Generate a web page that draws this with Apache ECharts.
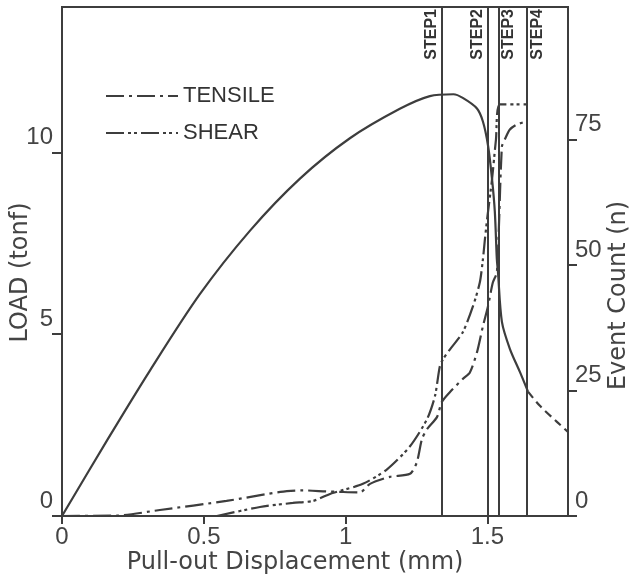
<!DOCTYPE html>
<html>
<head>
<meta charset="utf-8">
<script src="https://cdn.jsdelivr.net/npm/echarts@6/dist/echarts.min.js"></script>
<style>
html,body{margin:0;padding:0;background:#fff;}
#chart{width:634px;height:582px;}
</style>
</head>
<body>
<div id="chart"></div>
<script>
// Load curve (mm, tonf) - solid part
var loadSolid = [[0,0],[0.162,2.12],[0.31,4.0],[0.486,6.1],[0.663,7.85],[0.839,9.28],[1.015,10.39],[1.191,11.2],[1.297,11.55],[1.38,11.6],[1.413,11.5],[1.463,11.21],[1.484,10.85],[1.502,10.19],[1.516,9.28],[1.526,8.37],[1.533,7.08],[1.537,6.72],[1.551,5.34],[1.579,4.6],[1.614,3.97],[1.643,3.42]];
// Load curve - dashed continuation
var loadDashed = [[1.643,3.42],[1.685,3.03],[1.745,2.59],[1.784,2.31]];
// Event count (n) - TENSILE
var tensile = [[0,0],[0.2,0.1],[0.345,1.2],[0.58,3.0],[0.77,4.8],[0.85,5.1],[0.93,4.9],[0.98,4.8],[1.05,4.7],[1.086,6.4],[1.156,7.8],[1.227,8.4],[1.251,10.7],[1.269,15.3],[1.287,17.3],[1.322,19.7],[1.339,22.7],[1.368,24.7],[1.413,27.3],[1.438,28.6],[1.463,32.6],[1.484,37.8],[1.502,41.8],[1.519,46.5],[1.533,48.5],[1.540,57],[1.551,73.6],[1.561,75],[1.579,77],[1.604,78],[1.639,78.6]];
// Event count (n) - SHEAR
var shear = [[0.546,0],[0.698,1.8],[0.814,2.6],[0.885,3.0],[0.945,4.4],[0.98,5.0],[1.061,6.4],[1.146,9.3],[1.227,13.9],[1.287,19.3],[1.315,23.9],[1.332,29.8],[1.343,31.2],[1.368,33.2],[1.413,36.6],[1.449,41.8],[1.473,46.5],[1.484,51.1],[1.491,55.1],[1.50,59.7],[1.516,67],[1.530,75],[1.544,82],[1.639,82]];
// Step markers
var stepPositions = [1.336, 1.498, 1.544, 1.639];
var stepLabels = ['STEP1', 'STEP2', 'STEP3', 'STEP4'];
var seriesNames = ['TENSILE', 'SHEAR'];
// Tick values
var xTicks = [0, 0.5, 1, 1.5];
var loadTicks = [0, 5, 10];
var countTicks = [0, 25, 50, 75];

var ink = '#3d3d3d';
var chart = echarts.init(document.getElementById('chart'));
var option = {
  animation: false,
  backgroundColor: '#fff',
  grid: {left: 62, right: 66, top: 7, bottom: 66, containLabel: false, outerBoundsMode: 'none',
    show: true, borderColor: ink, borderWidth: 2, backgroundColor: 'transparent'},
  legend: {
    data: seriesNames,
    orient: 'vertical',
    left: 100, top: 80,
    itemWidth: 72, itemHeight: 4, itemGap: 15,
    itemStyle: {opacity: 0},
    textStyle: {fontSize: 22, color: '#333', fontFamily: 'Liberation Sans'}
  },
  xAxis: {
    type: 'value', min: 0, max: 1.784,
    name: 'Pull-out Displacement (mm)', nameLocation: 'middle', nameGap: 35, nameMoveOverlap: false,
    nameTextStyle: {fontSize: 24, color: '#444', fontFamily: 'DejaVu Sans', padding: [0, 40, 0, 0]},
    axisLine: {lineStyle: {color: ink, width: 2}},
    axisTick: {length: 8, customValues: xTicks, lineStyle: {color: ink, width: 2}},
    axisLabel: {fontSize: 24, color: '#444', fontFamily: 'Liberation Sans', margin: 9, customValues: xTicks},
    splitLine: {show: false}
  },
  yAxis: [{
    type: 'value', min: 0, max: 14, position: 'left',
    name: 'LOAD (tonf)', nameLocation: 'middle', nameGap: 29, nameRotate: 90, nameMoveOverlap: false,
    nameTextStyle: {fontSize: 24, color: '#444', fontFamily: 'DejaVu Sans', padding: [0, 22, 0, 0]},
    axisLine: {show: true, lineStyle: {color: ink, width: 2}},
    axisTick: {show: true, length: 10, customValues: loadTicks, lineStyle: {color: ink, width: 2}},
    axisLabel: {fontSize: 24, color: '#444', fontFamily: 'Liberation Sans', margin: 9, verticalAlign: 'bottom', padding: [0, 0, 3, 0], customValues: loadTicks},
    splitLine: {show: false}
  }, {
    type: 'value', min: 0, max: 101.4, position: 'right',
    name: 'Event Count (n)', nameLocation: 'middle', nameGap: 39, nameRotate: 90, nameMoveOverlap: false,
    nameTextStyle: {fontSize: 24, color: '#444', fontFamily: 'DejaVu Sans', padding: [0, 68, 0, 0]},
    axisLine: {show: true, lineStyle: {color: ink, width: 2}},
    axisTick: {show: true, length: 9, customValues: countTicks, lineStyle: {color: ink, width: 2}},
    axisLabel: {fontSize: 24, color: '#444', fontFamily: 'Liberation Sans', margin: 7, verticalAlign: 'bottom', padding: [0, 0, 3, 0], customValues: countTicks},
    splitLine: {show: false}
  }],
  series: [{
    name: 'LOAD', type: 'line', yAxisIndex: 0, data: loadSolid,
    showSymbol: false, symbol: 'none', smooth: 0.3,
    lineStyle: {color: ink, width: 2.2},
    markLine: {
      silent: true, symbol: 'none',
      lineStyle: {color: ink, width: 2, type: 'solid'},
      label: {show: true, position: 'insideEndTop', formatter: '{b}', fontSize: 16, fontWeight: 'bold', color: '#333', fontFamily: 'Liberation Sans', distance: 2},
      data: stepPositions.map(function (v, i) {
        return {xAxis: v, name: stepLabels[i], label: {position: i < 2 ? 'insideEndTop' : 'insideEndBottom'}};
      })
    }
  }, {
    name: 'LOAD-ext', type: 'line', yAxisIndex: 0, data: loadDashed,
    showSymbol: false, symbol: 'none', smooth: 0.3,
    lineStyle: {color: ink, width: 2.2, type: [8, 5]}
  }, {
    name: seriesNames[0], type: 'line', yAxisIndex: 1, data: tensile,
    showSymbol: false, symbol: 'none', smooth: 0.25,
    itemStyle: {color: ink},
    lineStyle: {color: ink, width: 2.2, type: [18, 5, 3, 5]}
  }, {
    name: seriesNames[1], type: 'line', yAxisIndex: 1, data: shear,
    showSymbol: false, symbol: 'none', smooth: 0.25,
    itemStyle: {color: ink},
    lineStyle: {color: ink, width: 2.2, type: [18, 4, 3, 3, 3, 4]}
  }]
};
chart.setOption(option);
</script>
</body>
</html>
